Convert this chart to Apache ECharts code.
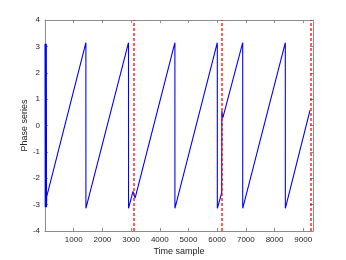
<!DOCTYPE html>
<html>
<head>
<meta charset="utf-8">
<script src="https://cdn.jsdelivr.net/npm/echarts@6/dist/echarts.min.js"></script>
<style>
  html, body { margin: 0; padding: 0; background: #fff; }
  #main { width: 346px; height: 260px; }
</style>
</head>
<body>
<div id="main"></div>
<script>
// breakpoints of the wrapped phase (straight segments between them)
var sampleIdx = [1, 8, 15, 22, 30, 38, 46, 53, 60, 1425, 1426, 2910, 2911, 3066, 3140, 4527, 4528, 6005, 6006, 6158, 6164, 6200, 6890, 6891, 8375, 8376, 9235];
var phaseVal = [3.1, -3.1, 3.1, -3.1, 3.1, -3.1, 3.1, -3.1, -2.7, 3.14, -3.14, 3.14, -3.14, -2.5, -2.75, 3.14, -3.14, 3.14, -3.14, -2.55, 0.55, 0.3, 3.14, -3.14, 3.14, -3.14, 0.57];
// segment boundaries (red dashed)
var boundaries = [3080, 6160, 9268];
var xTicks = [1000, 2000, 3000, 4000, 5000, 6000, 7000, 8000, 9000];

var myChart = echarts.init(document.getElementById('main'));

var axisCol = '#262626';
var frameCol = '#8c8c8c';
var font = 'Liberation Sans';

var points = sampleIdx.map(function (s, i) { return [s, phaseVal[i]]; });

var option = {
  animation: false,
  backgroundColor: '#fff',
  grid: { left: 45, right: 33, top: 20, bottom: 29, outerBoundsMode: 'none', containLabel: false },
  xAxis: [{
    type: 'value',
    min: 0,
    max: 9340,
    interval: 1000,
    name: 'Time sample',
    nameLocation: 'middle',
    nameGap: 16,
    nameMoveOverlap: false,
    nameTextStyle: { fontFamily: font, fontSize: 9, color: axisCol },
    axisLine: { onZero: false, lineStyle: { color: frameCol, width: 1 } },
    axisTick: { inside: true, length: 3, lineStyle: { color: frameCol } },
    axisLabel: {
      margin: 5, fontFamily: font, fontSize: 8, color: axisCol,
      formatter: function (v) { return xTicks.indexOf(v) >= 0 ? String(v) : ''; }
    },
    splitLine: { show: false }
  }, {
    type: 'value',
    position: 'top',
    min: 0,
    max: 9340,
    interval: 1000,
    axisLine: { onZero: false, lineStyle: { color: frameCol, width: 1 } },
    axisTick: { inside: true, length: 3, lineStyle: { color: frameCol } },
    axisLabel: { show: false },
    splitLine: { show: false }
  }],
  yAxis: [{
    type: 'value',
    min: -4,
    max: 4,
    interval: 1,
    name: 'Phase series',
    nameLocation: 'middle',
    nameGap: 16,
    nameMoveOverlap: false,
    nameTextStyle: { fontFamily: font, fontSize: 9, color: axisCol },
    axisLine: { show: true, onZero: false, lineStyle: { color: frameCol, width: 1 } },
    axisTick: { show: true, inside: true, length: 3, lineStyle: { color: frameCol } },
    axisLabel: { margin: 5, fontFamily: font, fontSize: 8, color: axisCol },
    splitLine: { show: false }
  }, {
    type: 'value',
    position: 'right',
    min: -4,
    max: 4,
    interval: 1,
    axisLine: { show: true, onZero: false, lineStyle: { color: frameCol, width: 1 } },
    axisTick: { show: true, inside: true, length: 3, lineStyle: { color: frameCol } },
    axisLabel: { show: false },
    splitLine: { show: false }
  }],
  series: [{
    name: 'phase',
    type: 'line',
    data: points,
    showSymbol: false,
    lineStyle: { color: '#0000ff', width: 1.1 },
    z: 2
  }, {
    name: 'boundary',
    type: 'line',
    data: [],
    z: 3,
    markLine: {
      silent: true,
      symbol: 'none',
      label: { show: false },
      lineStyle: { color: '#ff0000', width: 1.5, type: [3, 2], opacity: 0.85 },
      data: boundaries.map(function (b) { return { xAxis: b }; })
    }
  }]
};

myChart.setOption(option);
</script>
</body>
</html>
